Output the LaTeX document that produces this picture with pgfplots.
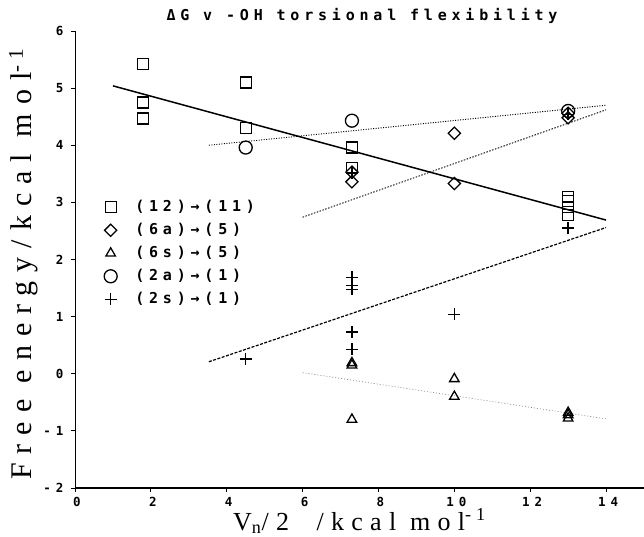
\documentclass[border=0pt]{standalone}
\usepackage{fontspec}
\usepackage{pgfplots}
\pgfplotsset{compat=1.18}
\newfontfamily\monofont[LetterSpace=32]{DejaVu Sans Mono}
\newfontfamily\tickfont[LetterSpace=40]{DejaVu Sans Mono}
\newfontfamily\labfont[LetterSpace=28]{Liberation Serif}
\newfontfamily\ylabfont[LetterSpace=30]{Liberation Serif}

\begin{document}
\begin{tikzpicture}
\begin{axis}[
  scale only axis, width=569pt, height=457pt,
  xmin=0, xmax=15, ymin=-2, ymax=6,
  axis x line*=bottom, axis y line*=left,
  x axis line style={line width=1.6pt},
  y axis line style={line width=0.8pt},
  xtick={0,2,...,14}, xticklabels={0,2,4,6,8,10,12,14},
  ytick={-2,...,6}, yticklabels={-2,-1,0,1,2,3,4,5,6},
  tick align=outside, major tick length=4pt,
  tick style={line width=0.8pt, black},
  tick label style={font=\tickfont\bfseries\fontsize{12.5}{14}\selectfont},
  xticklabel style={yshift=-2pt, xshift=2pt},
  yticklabel style={xshift=-4pt},
  title={ΔG v -OH torsional flexibility},
  title style={font=\monofont\bfseries\fontsize{15}{17}\selectfont,
    at={(axis description cs:0.5,1)}, anchor=base, yshift=4pt, xshift=2.5pt},
  xlabel={V\textsubscript{n}/2 \ /kcal mol\textsuperscript{-1}},
  xlabel style={font=\labfont\fontsize{26}{30}\selectfont,
    at={([yshift=-42pt]axis description cs:0.5,0)}, anchor=base},
  ylabel={Free energy/kcal mol\textsuperscript{-1}},
  ylabel style={font=\ylabfont\fontsize{30}{34}\selectfont,
    at={([xshift=-43pt]axis description cs:0,0.49)}, anchor=base},
  legend cell align=left,
  legend style={draw=none, fill=none, at={(axis cs:0.76,3.04)}, anchor=north west,
    inner sep=0pt, row sep=9pt,
    font=\monofont\bfseries\fontsize{15}{17}\selectfont,
    nodes={inner sep=0pt, text height=11pt, text depth=3pt}},
  legend image code/.code={\draw[#1] plot coordinates {(0pt,0pt)}; \path (-6pt,0pt) (24pt,0pt);},
  clip=false,
]
% regression lines
\addplot[forget plot, black, line width=1.5pt] coordinates {(1,5.04) (14,2.69)};
\addplot[forget plot, black, line width=0.9pt, dash pattern=on 1pt off 1.5pt] coordinates {(3.53,4.00) (14,4.70)};
\addplot[forget plot, black, line width=0.9pt, dash pattern=on 1.5pt off 1.5pt] coordinates {(6.0,2.74) (14,4.62)};
\addplot[forget plot, black, line width=1.2pt, dash pattern=on 3pt off 1.5pt] coordinates {(3.53,0.21) (14,2.56)};
\addplot[forget plot, gray, line width=0.6pt, dash pattern=on 1pt off 2pt] coordinates {(6.0,0.02) (14,-0.79)};

% (12)->(11)
\addplot[only marks, black, mark=square, mark size=5.5pt, line width=1.3pt] coordinates {
(1.8,5.42) (1.8,4.75) (1.8,4.47) (4.5,5.10) (4.5,4.30) (7.3,3.96) (7.3,3.60)
(13,3.10) (13,3.02) (13,2.92) (13,2.78)};
\addlegendentry{(12)→(11)}
% (6a)->(5)
\addplot[only marks, black, mark=square, mark size=4.3pt, mark options={rotate=45}, line width=1.3pt] coordinates {
(7.3,3.53) (7.3,3.36) (10,4.21) (10,3.33) (13,4.56) (13,4.48)};
\addlegendentry{(6a)→(5)}
% (6s)->(5)
\addplot[only marks, black, mark=triangle, mark size=5.5pt, line width=1.3pt] coordinates {
(7.3,0.19) (7.3,0.15) (7.3,-0.80) (10,-0.09) (10,-0.40) (13,-0.68) (13,-0.72) (13,-0.78)};
\addlegendentry{(6s)→(5)}
% (2a)->(1)
\addplot[only marks, black, mark=o, mark size=6.5pt, line width=1.3pt] coordinates {
(4.5,3.96) (7.3,4.43) (13,4.60)};
\addlegendentry{(2a)→(1)}
% (2s)->(1)
\addplot[only marks, black, mark=+, mark size=6pt, line width=1.3pt] coordinates {
(4.5,0.26) (7.3,1.69) (7.3,1.55) (7.3,1.48) (7.3,0.73) (7.3,0.43) (7.3,3.52)
(10,1.04) (13,2.55) (13,4.54)};
\addlegendentry{(2s)→(1)}
\end{axis}
\pgfresetboundingbox
\path (current axis.south west) ++(-75pt,-49pt) rectangle ++(644pt,537pt);
\end{tikzpicture}
\end{document}
